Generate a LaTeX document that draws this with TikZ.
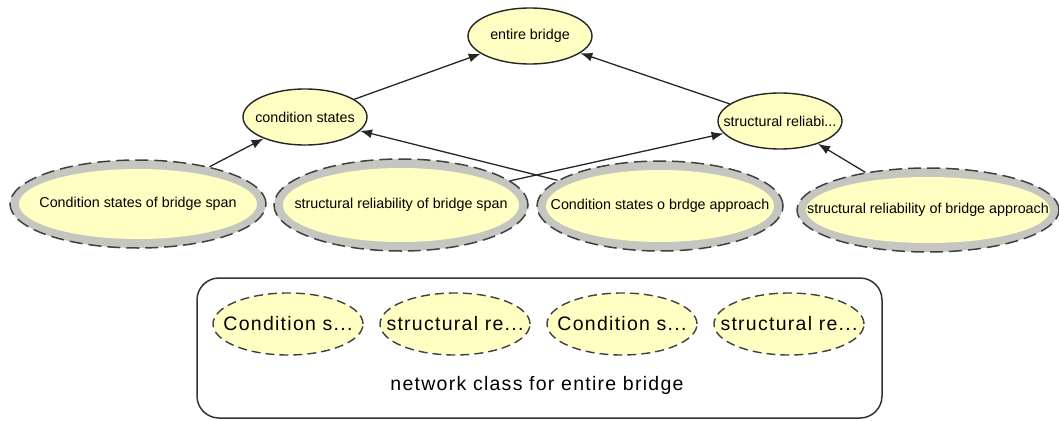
\documentclass[tikz,border=0pt]{standalone}
\usepackage{fontspec}
\setmainfont{Liberation Sans}
\newfontfamily\classfont[LetterSpace=6.5]{Liberation Sans}
\usetikzlibrary{shapes, arrows.meta, positioning}

\definecolor{statefill}{HTML}{FFFFC4}
\definecolor{ringgray}{HTML}{C6C6C0}

\begin{document}
\begin{tikzpicture}[x=1pt, y=-1pt,
nowidth/.style={execute at begin node={\hbox to 0pt\bgroup\hss},
execute at end node={\hss\egroup}},
state/.style={ellipse, nowidth, draw=black!85, line width=1.4pt, fill=statefill,
inner sep=0pt, minimum width=124pt, minimum height=56pt,
font=\fontsize{14.3}{16}\selectfont},
instance/.style 2 args={state, draw=black!75, dash pattern=on 13pt off 6pt,
line width=1.5pt, fill=ringgray, minimum width=#1, minimum height=#2,
path picture={\fill[statefill] (path picture bounding box.center)
ellipse [x radius=#1/2-9, y radius=#2/2-9];}},
member/.style={ellipse, nowidth, draw=black!75, line width=1.4pt,
dash pattern=on 9pt off 5pt, fill=statefill, inner sep=0pt,
minimum width=150pt, minimum height=62pt, node distance=167pt,
font=\classfont\fontsize{19.5}{22}\selectfont},
class-box/.style={rectangle, rounded corners=22pt, draw=black!80, line width=1.5pt,
minimum width=685pt, minimum height=140pt},
line/.style={draw, line width=1.3pt, black!85, -{Latex[length=12pt, width=9pt]}}
]
\useasboundingbox (0,0) rectangle (1059,420);

\node [state] (entire) at (530,36) {entire bridge};
\node [state] (cond) at (305,117) {condition states};
\node [state] (struct) at (780,121) {structural reliabi...};

\node [instance={256}{88}] (cond-span) at (138,204) {Condition states of bridge span};
\node [instance={254}{92}] (struct-span) at (401,205) {structural reliability of bridge span};
\node [instance={246}{90}] (cond-appr) at (660,206) {Condition states o brdge approach};
\node [instance={262}{84}] (struct-appr) at (928,210) {structural reliability of bridge approach};

\path [line] (cond) -- (entire);
\path [line] (struct) -- (entire);
\path [line] (cond-span) -- (cond);
\path [line] (cond-appr) -- (cond);
\path [line] (struct-span) -- (struct);
\path [line] (struct-appr) -- (struct);

% network class
\node [class-box] (net-class) at (539.5,348) {};
\node [member] (m-cond-span) at (288,324) {Condition s...};
\node [member, right of=m-cond-span] (m-struct-span) {structural re...};
\node [member, right of=m-struct-span] (m-cond-appr) {Condition s...};
\node [member, right of=m-cond-appr] (m-struct-appr) {structural re...};
\node [font=\classfont\fontsize{19.5}{22}\selectfont] (class-name) at (537,385)
{network class for entire bridge};

\end{tikzpicture}
\end{document}
